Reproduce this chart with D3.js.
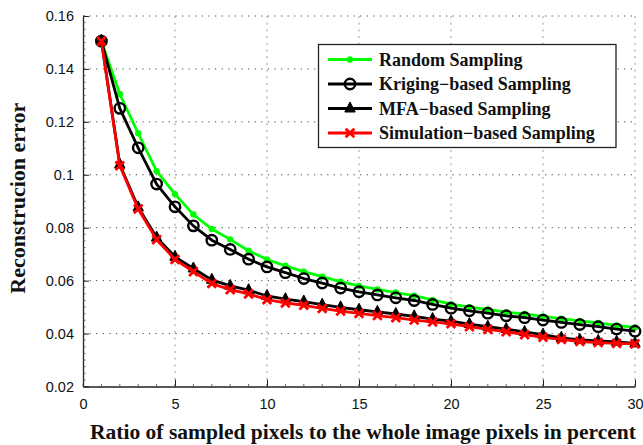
<!DOCTYPE html>
<html>
<head>
<meta charset="utf-8">
<script src="https://cdn.jsdelivr.net/npm/d3@7"></script>
<style>
  html, body { margin: 0; padding: 0; background: #fff; }
  svg { display: block; }
</style>
</head>
<body>
<svg id="chart" width="643" height="445"></svg>
<script>
// ---------------- data ----------------
const ratios = d3.range(1, 31);
const seriesNames = ["Random Sampling", "Kriging\u2212based Sampling", "MFA\u2212based Sampling", "Simulation\u2212based Sampling"];
const randomSampling = [0.1505, 0.1305, 0.1157, 0.1014, 0.0927, 0.0850, 0.0795, 0.0756, 0.0713, 0.0680,
  0.0656, 0.0634, 0.0615, 0.0596, 0.0580, 0.0567, 0.0555, 0.0543, 0.0527, 0.0511,
  0.0500, 0.0491, 0.0481, 0.0474, 0.0465, 0.0456, 0.0448, 0.0440, 0.0431, 0.0423];
const krigingSampling = [0.1505, 0.1251, 0.1102, 0.0965, 0.0879, 0.0807, 0.0753, 0.0718, 0.0681, 0.0652,
  0.0630, 0.0608, 0.0591, 0.0572, 0.0558, 0.0546, 0.0535, 0.0525, 0.0510, 0.0496,
  0.0486, 0.0477, 0.0467, 0.0460, 0.0451, 0.0442, 0.0434, 0.0426, 0.0417, 0.0409];
const mfaSampling = [0.1507, 0.1039, 0.0877, 0.0763, 0.0690, 0.0646, 0.0603, 0.0580, 0.0564, 0.0542,
  0.0530, 0.0521, 0.0509, 0.0499, 0.0490, 0.0482, 0.0474, 0.0465, 0.0455, 0.0447,
  0.0436, 0.0426, 0.0417, 0.0406, 0.0396, 0.0384, 0.0376, 0.0372, 0.0369, 0.0363];
const simulationSampling = [0.1505, 0.1034, 0.0871, 0.0755, 0.0680, 0.0634, 0.0589, 0.0566, 0.0550, 0.0528,
  0.0516, 0.0507, 0.0495, 0.0485, 0.0476, 0.0468, 0.0460, 0.0451, 0.0444, 0.0437,
  0.0426, 0.0416, 0.0407, 0.0396, 0.0386, 0.0378, 0.0370, 0.0366, 0.0363, 0.0361];
const xTicks = [0, 5, 10, 15, 20, 25, 30];
const yTicks = [0.02, 0.04, 0.06, 0.08, 0.1, 0.12, 0.14, 0.16];
const xTitle = "Ratio of sampled pixels to the whole image pixels in percent";
const yTitle = "Reconstrucion error";

// ---------------- layout ----------------
const svg = d3.select("#chart");
const L = 83, R = 635, T = 16, B = 386.5;
const x = d3.scaleLinear().domain([0, 30]).range([L, R]);
const y = d3.scaleLinear().domain([0.02, 0.16]).range([B, T]);

const serif = "'Liberation Serif', 'Times New Roman', serif";
const sans = "'Liberation Sans', Arial, sans-serif";

// grid
const grid = svg.append("g");
grid.selectAll("line.h").data(yTicks.filter(d => d > 0.02)).enter().append("line")
  .attr("x1", L).attr("x2", R).attr("y1", d => y(d)).attr("y2", d => y(d))
  .attr("stroke", "#444").attr("stroke-width", 1).attr("stroke-dasharray", "1.2,5.4");
grid.selectAll("line.v").data(xTicks.filter(d => d > 0)).enter().append("line")
  .attr("y1", T).attr("y2", B).attr("x1", d => x(d)).attr("x2", d => x(d))
  .attr("stroke", "#999").attr("stroke-width", 1).attr("stroke-dasharray", "2,4.7");

// axes
const xAxis = d3.axisBottom(x).tickValues(xTicks).tickSizeInner(-7).tickSizeOuter(0).tickPadding(12).tickFormat(d3.format("d"));
const yAxis = d3.axisLeft(y).tickValues(yTicks).tickSizeInner(-6).tickSizeOuter(0).tickPadding(9).tickFormat(d => String(+d.toFixed(2)));
const gx = svg.append("g").attr("transform", `translate(0,${B})`).call(xAxis);
const gy = svg.append("g").attr("transform", `translate(${L},0)`).call(yAxis);
[gx, gy].forEach(g => {
  g.select(".domain").attr("stroke", "#222").attr("stroke-width", 1.3);
  g.selectAll(".tick line").attr("stroke", "#222");
  g.selectAll("text").attr("font-family", sans).attr("font-size", 14.5).attr("fill", "#111");
});
// minor ticks
svg.append("g").selectAll("line").data(d3.range(0, 30.01, 1)).enter().append("line")
  .attr("x1", d => x(d)).attr("x2", d => x(d)).attr("y1", B).attr("y2", B - 2.5)
  .attr("stroke", "#444").attr("stroke-width", 0.8);
svg.append("g").selectAll("line").data(d3.range(0.02, 0.1601, 0.0025)).enter().append("line")
  .attr("x1", L).attr("x2", L + 2.5).attr("y1", d => y(d)).attr("y2", d => y(d))
  .attr("stroke", "#444").attr("stroke-width", 0.8);

// titles
svg.append("text").attr("x", 90).attr("y", 438.5).attr("text-anchor", "start")
  .attr("font-family", serif).attr("font-weight", "bold").attr("font-size", 21.5).attr("fill", "#111")
  .attr("textLength", 546).attr("lengthAdjust", "spacingAndGlyphs")
  .text(xTitle);
svg.append("text").attr("transform", `translate(25,${(T + B) / 2 - 3}) rotate(-90)`).attr("text-anchor", "middle")
  .attr("font-family", serif).attr("font-weight", "bold").attr("font-size", 22).attr("fill", "#111")
  .text(yTitle);

// ---------------- series ----------------
const series = [
  { name: seriesNames[0], values: randomSampling, color: "#00ff00", marker: "dot" },
  { name: seriesNames[1], values: krigingSampling, color: "#000000", marker: "circle" },
  { name: seriesNames[2], values: mfaSampling, color: "#000000", marker: "triangle" },
  { name: seriesNames[3], values: simulationSampling, color: "#ff0000", marker: "cross" }
];
const line = d3.line().x((d, i) => x(ratios[i])).y(d => y(d));

function drawMarker(g, type, cx, cy, color) {
  if (type === "dot") {
    g.append("circle").attr("cx", cx).attr("cy", cy).attr("r", 3.2).attr("fill", color);
  } else if (type === "circle") {
    g.append("circle").attr("cx", cx).attr("cy", cy).attr("r", 5.2).attr("fill", "none")
      .attr("stroke", color).attr("stroke-width", 2.4);
  } else if (type === "triangle") {
    g.append("path").attr("d", `M${cx},${cy - 6.5} L${cx + 5.2},${cy + 3.5} L${cx - 5.2},${cy + 3.5} Z`)
      .attr("fill", color).attr("stroke", color).attr("stroke-width", 1);
  } else if (type === "cross") {
    const s = 4.3;
    g.append("path").attr("d", `M${cx - s},${cy - s} L${cx + s},${cy + s} M${cx - s},${cy + s} L${cx + s},${cy - s}`)
      .attr("stroke", color).attr("stroke-width", 2.8).attr("fill", "none");
  }
}

series.forEach(s => {
  const g = svg.append("g");
  g.append("path").datum(s.values).attr("d", line).attr("fill", "none")
    .attr("stroke", s.color).attr("stroke-width", 2.8).attr("stroke-linejoin", "round");
  s.values.forEach((v, i) => drawMarker(g, s.marker, x(ratios[i]), y(v), s.color));
});

// ---------------- legend ----------------
const lg = svg.append("g");
lg.append("rect").attr("x", 318.5).attr("y", 44.5).attr("width", 297.5).attr("height", 103)
  .attr("fill", "#fff").attr("stroke", "#222").attr("stroke-width", 1.3);
const rowY = [59.5, 84, 108.5, 133];
series.forEach((s, i) => {
  lg.append("line").attr("x1", 328).attr("x2", 372).attr("y1", rowY[i]).attr("y2", rowY[i])
    .attr("stroke", s.color).attr("stroke-width", 2.8);
  drawMarker(lg, s.marker, 350, rowY[i], s.color);
  lg.append("text").attr("x", 379).attr("y", rowY[i]).attr("dy", "0.35em")
    .attr("font-family", serif).attr("font-weight", "bold").attr("font-size", 18).attr("fill", "#111")
    .text(s.name);
});
</script>
</body>
</html>
